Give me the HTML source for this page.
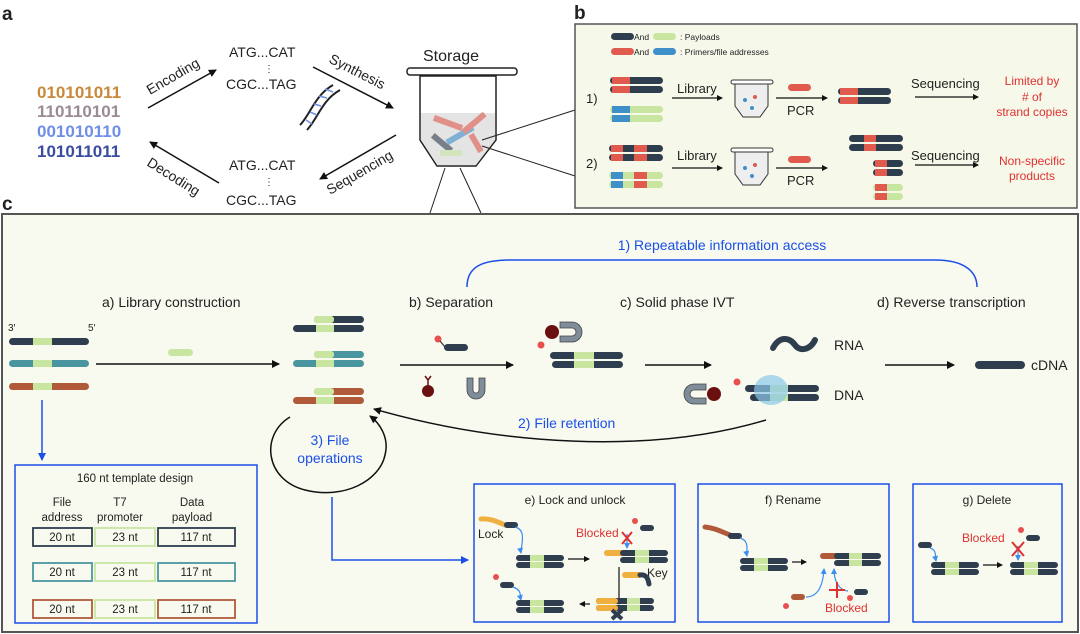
<!DOCTYPE html>
<html><head><meta charset="utf-8"><style>
html,body{margin:0;padding:0;background:#fff}
svg{display:block}
text{font-family:"Liberation Sans",sans-serif;fill:#222}
</style></head><body>
<svg width="1080" height="634" viewBox="0 0 1080 634" xmlns="http://www.w3.org/2000/svg">
<defs>
<marker id="ah" markerWidth="8" markerHeight="8" refX="7" refY="4" orient="auto" markerUnits="userSpaceOnUse"><path d="M0,0 L8,4 L0,8 z" fill="#111"/></marker>
<marker id="ahb" markerWidth="8" markerHeight="8" refX="7" refY="4" orient="auto" markerUnits="userSpaceOnUse"><path d="M0,0 L8,4 L0,8 z" fill="#1a4fe8"/></marker>
<marker id="ahs" markerWidth="6" markerHeight="6" refX="5" refY="3" orient="auto" markerUnits="userSpaceOnUse"><path d="M0,0 L6,3 L0,6 z" fill="#111"/></marker>
<marker id="ahsb" markerWidth="6" markerHeight="6" refX="5" refY="3" orient="auto" markerUnits="userSpaceOnUse"><path d="M0,0 L6,3 L0,6 z" fill="#3a8ef0"/></marker>
</defs>

<!-- panel labels -->
<text x="2" y="20" font-size="19" font-weight="bold">a</text>
<text x="574" y="19" font-size="19" font-weight="bold">b</text>
<text x="2" y="210" font-size="19" font-weight="bold">c</text>

<!-- panel a -->
<g font-size="17" font-weight="bold">
<text x="37" y="98" fill="#c8893a" style="fill:#c8893a">010101011</text>
<text x="37" y="117" style="fill:#9a8a96">110110101</text>
<text x="37" y="137" style="fill:#6f8ee8">001010110</text>
<text x="37" y="157" style="fill:#3a4ca0">101011011</text>
</g>
<line x1="148" y1="108" x2="216" y2="70" stroke="#111" stroke-width="1.5" marker-end="url(#ah)"/>
<text x="0" y="0" font-size="14" transform="translate(150,95) rotate(-30)">Encoding</text>
<text x="229" y="57" font-size="14">ATG...CAT</text>
<text x="264" y="72" font-size="10">⋮</text>
<text x="226" y="89" font-size="14">CGC...TAG</text>
<line x1="313" y1="67" x2="393" y2="108" stroke="#111" stroke-width="1.5" marker-end="url(#ah)"/>
<text font-size="14" transform="translate(328,62) rotate(27)">Synthesis</text>
<!-- dna helix -->
<g stroke="#222" stroke-width="2" fill="none">
<path d="M300,125 C310,115 315,95 333,85"/>
<path d="M307,130 C318,118 322,100 340,90"/>
</g>
<g stroke="#6f8ee8" stroke-width="1.5"><line x1="306" y1="120" x2="312" y2="124"/><line x1="310" y1="112" x2="317" y2="115"/><line x1="314" y1="104" x2="321" y2="106"/><line x1="319" y1="96" x2="327" y2="98"/><line x1="325" y1="89" x2="333" y2="92"/></g>
<line x1="396" y1="135" x2="320" y2="179" stroke="#111" stroke-width="1.5" marker-end="url(#ah)"/>
<text font-size="14" transform="translate(330,195) rotate(-30)">Sequencing</text>
<text x="229" y="170" font-size="14">ATG...CAT</text>
<text x="264" y="185" font-size="10">⋮</text>
<text x="226" y="205" font-size="14">CGC...TAG</text>
<line x1="219" y1="183" x2="150" y2="142" stroke="#111" stroke-width="1.5" marker-end="url(#ah)"/>
<text font-size="14" transform="translate(146,165) rotate(32)">Decoding</text>
<!-- tube -->
<text x="423" y="61" font-size="16">Storage</text>
<rect x="407" y="68" width="110" height="7" rx="3" fill="#fff" stroke="#222" stroke-width="1.5"/>
<path d="M420,76 L496,76 L496,140 L476,166 L437,166 L420,140 Z" fill="#fff" stroke="#222" stroke-width="1.5"/>
<path d="M421,113 L495,113 L495,140 L476,165 L438,165 L421,140 Z" fill="#e4e4e4"/>
<g opacity="0.6">
<rect x="433" y="120" width="30" height="6" fill="#e05a4e" transform="rotate(20 448 123)"/>
<rect x="445" y="132" width="30" height="6" fill="#3f8fc8" transform="rotate(-30 460 135)"/>
<rect x="430" y="140" width="24" height="6" fill="#2f3e4e" transform="rotate(40 442 143)"/>
<rect x="460" y="120" width="28" height="6" fill="#e05a4e" transform="rotate(-40 474 123)"/>
<rect x="440" y="150" width="22" height="6" fill="#c8e6a0"/>
<rect x="466" y="140" width="20" height="6" fill="#e05a4e" transform="rotate(60 476 143)"/>
</g>
<line x1="482" y1="140" x2="575" y2="110" stroke="#222" stroke-width="1"/>
<line x1="482" y1="146" x2="575" y2="176" stroke="#222" stroke-width="1"/>
<line x1="445" y1="168" x2="430" y2="213" stroke="#222" stroke-width="1"/>
<line x1="460" y1="168" x2="481" y2="213" stroke="#222" stroke-width="1"/>

<!-- panel b -->
<rect x="575" y="24" width="502" height="184" fill="#f6f9ea" stroke="#555" stroke-width="1.5"/>
<g font-size="8.5">
<rect x="611" y="33" width="23" height="7" rx="3.5" fill="#2f3e4e"/><text x="634" y="40">And</text>
<rect x="653" y="33" width="23" height="7" rx="3.5" fill="#c8e6a0"/><text x="680" y="40">: Payloads</text>
<rect x="611" y="48" width="23" height="7" rx="3.5" fill="#e05a4e"/><text x="634" y="55">And</text>
<rect x="653" y="48" width="23" height="7" rx="3.5" fill="#3f8fc8"/><text x="680" y="55">: Primers/file addresses</text>
</g>
<g font-size="13">
<text x="586" y="103">1)</text><text x="586" y="168">2)</text>
<text x="677" y="93">Library</text><text x="677" y="160">Library</text>
<text x="787" y="115">PCR</text><text x="787" y="185">PCR</text>
<text x="911" y="88">Sequencing</text><text x="911" y="160">Sequencing</text>
</g>
<g font-size="12" text-anchor="middle" style="fill:#e03030">
<text x="1032" y="85" style="fill:#e03030">Limited by</text>
<text x="1032" y="101" style="fill:#e03030"># of</text>
<text x="1032" y="116" style="fill:#e03030">strand copies</text>
<text x="1032" y="165" style="fill:#e03030">Non-specific</text>
<text x="1032" y="180" style="fill:#e03030">products</text>
</g>
<g stroke="#111" stroke-width="1.3">
<line x1="672" y1="98" x2="722" y2="98" marker-end="url(#ahs)"/>
<line x1="776" y1="98" x2="827" y2="98" marker-end="url(#ahs)"/>
<line x1="915" y1="97" x2="978" y2="97" marker-end="url(#ahs)"/>
<line x1="672" y1="168" x2="722" y2="168" marker-end="url(#ahs)"/>
<line x1="776" y1="168" x2="827" y2="168" marker-end="url(#ahs)"/>
<line x1="915" y1="165" x2="978" y2="165" marker-end="url(#ahs)"/>
</g>
<!-- row1 strands -->
<g>
<rect x="610" y="77" width="53" height="7" rx="3.5" fill="#2f3e4e"/><rect x="612" y="77" width="18" height="7" fill="#e05a4e"/>
<rect x="610" y="86" width="53" height="7" rx="3.5" fill="#2f3e4e"/><rect x="612" y="86" width="18" height="7" fill="#e05a4e"/>
<rect x="610" y="106" width="53" height="7" rx="3.5" fill="#c8e6a0"/><rect x="612" y="106" width="18" height="7" fill="#3f8fc8"/>
<rect x="610" y="115" width="53" height="7" rx="3.5" fill="#c8e6a0"/><rect x="612" y="115" width="18" height="7" fill="#3f8fc8"/>
<rect x="788" y="84" width="23" height="7" rx="3.5" fill="#e05a4e"/>
<rect x="838" y="88" width="53" height="7" rx="3.5" fill="#2f3e4e"/><rect x="840" y="88" width="18" height="7" fill="#e05a4e"/>
<rect x="838" y="97" width="53" height="7" rx="3.5" fill="#2f3e4e"/><rect x="840" y="97" width="18" height="7" fill="#e05a4e"/>
<!-- row2 -->
<rect x="609" y="145" width="54" height="7" rx="3.5" fill="#2f3e4e"/><rect x="611" y="145" width="12" height="7" fill="#e05a4e"/><rect x="634" y="145" width="13" height="7" fill="#e05a4e"/>
<rect x="609" y="154" width="54" height="7" rx="3.5" fill="#2f3e4e"/><rect x="611" y="154" width="12" height="7" fill="#e05a4e"/><rect x="634" y="154" width="13" height="7" fill="#e05a4e"/>
<rect x="609" y="172" width="54" height="7" rx="3.5" fill="#c8e6a0"/><rect x="611" y="172" width="12" height="7" fill="#3f8fc8"/><rect x="634" y="172" width="13" height="7" fill="#e05a4e"/>
<rect x="609" y="181" width="54" height="7" rx="3.5" fill="#c8e6a0"/><rect x="611" y="181" width="12" height="7" fill="#3f8fc8"/><rect x="634" y="181" width="13" height="7" fill="#e05a4e"/>
<rect x="788" y="156" width="23" height="7" rx="3.5" fill="#e05a4e"/>
<rect x="849" y="135" width="54" height="7" rx="3.5" fill="#2f3e4e"/><rect x="864" y="135" width="12" height="7" fill="#e05a4e"/><rect x="876" y="135" width="0" height="0"/>
<rect x="849" y="144" width="54" height="7" rx="3.5" fill="#2f3e4e"/><rect x="864" y="144" width="12" height="7" fill="#e05a4e"/>
<rect x="873" y="160" width="30" height="7" rx="3.5" fill="#2f3e4e"/><rect x="875" y="160" width="12" height="7" fill="#e05a4e"/>
<rect x="873" y="169" width="30" height="7" rx="3.5" fill="#2f3e4e"/><rect x="875" y="169" width="12" height="7" fill="#e05a4e"/>
<rect x="873" y="184" width="30" height="7" rx="3.5" fill="#c8e6a0"/><rect x="875" y="184" width="12" height="7" fill="#e05a4e"/>
<rect x="873" y="193" width="30" height="7" rx="3.5" fill="#c8e6a0"/><rect x="875" y="193" width="12" height="7" fill="#e05a4e"/>
</g>
<!-- small tubes -->
<g>
<rect x="731" y="80" width="42" height="4" rx="2" fill="#fff" stroke="#333"/>
<path d="M735,84 L768,84 L768,106 L760,117 L743,117 L735,106 Z" fill="#eee" stroke="#333"/>
<rect x="731" y="148" width="42" height="4" rx="2" fill="#fff" stroke="#333"/>
<path d="M735,152 L768,152 L768,174 L760,185 L743,185 L735,174 Z" fill="#eee" stroke="#333"/>
<circle cx="745" cy="100" r="2" fill="#3f8fc8"/><circle cx="755" cy="97" r="2" fill="#e05a4e"/><circle cx="752" cy="108" r="2" fill="#3f8fc8"/>
<circle cx="745" cy="168" r="2" fill="#3f8fc8"/><circle cx="755" cy="165" r="2" fill="#e05a4e"/><circle cx="752" cy="176" r="2" fill="#3f8fc8"/>
</g>

<!-- panel c -->
<rect x="2" y="214" width="1076" height="418" fill="#f8faef" stroke="#555" stroke-width="2"/>
<g font-size="14">
<text x="102" y="307">a) Library construction</text>
<text x="409" y="307">b) Separation</text>
<text x="620" y="307">c) Solid phase IVT</text>
<text x="877" y="307">d) Reverse transcription</text>
<text x="834" y="350">RNA</text>
<text x="834" y="400">DNA</text>
<text x="1031" y="370">cDNA</text>
</g>
<text x="8" y="331" font-size="10">3′</text><text x="88" y="331" font-size="10">5′</text>
<text x="722" y="250" font-size="14" text-anchor="middle" style="fill:#1a4fe8">1) Repeatable information access</text>
<path d="M467,287 C467,268 480,260 510,260 L935,260 C965,260 977,272 977,287" fill="none" stroke="#1a4fe8" stroke-width="1.5"/>
<!-- left strands -->
<g>
<rect x="9" y="338" width="80" height="7" rx="3.5" fill="#2f3e4e"/><rect x="33" y="338" width="19" height="7" fill="#c8e6a0"/>
<rect x="9" y="360" width="80" height="7" rx="3.5" fill="#4a96a0"/><rect x="33" y="360" width="19" height="7" fill="#c8e6a0"/>
<rect x="9" y="383" width="80" height="7" rx="3.5" fill="#b05a3a"/><rect x="33" y="383" width="19" height="7" fill="#c8e6a0"/>
<rect x="168" y="349" width="25" height="7" rx="3.5" fill="#c8e6a0"/>
</g>
<line x1="96" y1="364" x2="279" y2="364" stroke="#111" stroke-width="1.5" marker-end="url(#ah)"/>
<!-- stacked strands -->
<g>
<rect x="314" y="316" width="50" height="7" rx="3.5" fill="#2f3e4e"/><rect x="314" y="316" width="20" height="7" rx="3" fill="#c8e6a0"/>
<rect x="293" y="325" width="71" height="7" rx="3.5" fill="#2f3e4e"/><rect x="316" y="325" width="18" height="7" fill="#c8e6a0"/>
<rect x="314" y="351" width="50" height="7" rx="3.5" fill="#4a96a0"/><rect x="314" y="351" width="20" height="7" rx="3" fill="#c8e6a0"/>
<rect x="293" y="360" width="71" height="7" rx="3.5" fill="#4a96a0"/><rect x="316" y="360" width="18" height="7" fill="#c8e6a0"/>
<rect x="314" y="388" width="50" height="7" rx="3.5" fill="#b05a3a"/><rect x="314" y="388" width="20" height="7" rx="3" fill="#c8e6a0"/>
<rect x="293" y="397" width="71" height="7" rx="3.5" fill="#b05a3a"/><rect x="316" y="397" width="18" height="7" fill="#c8e6a0"/>
</g>
<!-- separation -->
<line x1="400" y1="365" x2="513" y2="365" stroke="#111" stroke-width="1.5" marker-end="url(#ah)"/>
<circle cx="438" cy="339" r="3.5" fill="#e85050"/><line x1="440" y1="341" x2="445" y2="347" stroke="#333" stroke-width="1.2"/>
<rect x="444" y="344" width="24" height="7" rx="3.5" fill="#2f3e4e"/>
<circle cx="428" cy="391" r="6" fill="#6b1010"/><path d="M428,385 L428,380 M428,380 L425,376 M428,380 L431,376" stroke="#6b1010" stroke-width="1.5" fill="none"/>
<path d="M467,378 L467,390 A9,9 0 0 0 485,390 L485,378 L479,378 L479,390 A3,3 0 0 1 473,390 L473,378 Z" fill="#7f8c9a" stroke="#444" stroke-width="0.8"/>
<!-- IVT bead cluster -->
<circle cx="552" cy="332" r="7" fill="#6b1010"/>
<circle cx="541" cy="345" r="3.5" fill="#e85050"/>
<path d="M560,322 L572,322 A10,10 0 0 1 572,342 L560,342 L560,336 L572,336 A4,4 0 0 0 572,328 L560,328 Z" fill="#7f8c9a" stroke="#444" stroke-width="0.8"/>
<rect x="550" y="352" width="73" height="7" rx="3.5" fill="#2f3e4e"/><rect x="574" y="352" width="20" height="7" fill="#c8e6a0"/>
<rect x="552" y="361" width="71" height="7" rx="3.5" fill="#2f3e4e"/><rect x="574" y="361" width="20" height="7" fill="#c8e6a0"/>
<line x1="645" y1="365" x2="711" y2="365" stroke="#111" stroke-width="1.5" marker-end="url(#ah)"/>
<path d="M773,348 C780,335 790,338 795,345 C800,352 810,350 815,340" fill="none" stroke="#2f3e4e" stroke-width="6" stroke-linecap="round"/>
<path d="M706,384 L694,384 A10,10 0 0 0 694,404 L706,404 L706,398 L694,398 A4,4 0 0 1 694,390 L706,390 Z" fill="#7f8c9a" stroke="#444" stroke-width="0.8"/>
<circle cx="714" cy="394" r="7" fill="#6b1010"/>
<circle cx="737" cy="382" r="3.5" fill="#e85050"/>
<rect x="745" y="385" width="74" height="7" rx="3.5" fill="#2f3e4e"/><rect x="770" y="385" width="18" height="7" fill="#c8e6a0"/>
<rect x="750" y="394" width="69" height="7" rx="3.5" fill="#2f3e4e"/><rect x="770" y="394" width="18" height="7" fill="#c8e6a0"/>
<ellipse cx="771" cy="390" rx="17" ry="15" fill="#8cc8e8" opacity="0.7"/>
<line x1="885" y1="365" x2="954" y2="365" stroke="#111" stroke-width="1.5" marker-end="url(#ah)"/>
<rect x="975" y="361" width="50" height="8" rx="4" fill="#2f3e4e"/>
<!-- file retention -->
<path d="M766,420 C650,455 500,445 374,409" fill="none" stroke="#111" stroke-width="1.5" marker-end="url(#ah)"/>
<text x="518" y="428" font-size="14" style="fill:#1a4fe8">2) File retention</text>
<!-- file operations circle -->
<path d="M290,417 C260,435 265,480 305,490 C345,500 380,480 385,455 C389,440 382,425 370,416" fill="none" stroke="#111" stroke-width="1.5" marker-end="url(#ah)"/>
<text x="330" y="445" font-size="14" text-anchor="middle" style="fill:#1a4fe8">3) File</text>
<text x="330" y="463" font-size="14" text-anchor="middle" style="fill:#1a4fe8">operations</text>
<path d="M332,497 L332,560 L468,560" fill="none" stroke="#1a4fe8" stroke-width="1.5" marker-end="url(#ahb)"/>
<line x1="42" y1="400" x2="42" y2="460" stroke="#1a4fe8" stroke-width="1.5" marker-end="url(#ahb)"/>
<!-- template box -->
<rect x="15" y="465" width="242" height="158" fill="#f8faef" stroke="#1a4fe8" stroke-width="1.5"/>
<g font-size="11.5" text-anchor="middle">
<text x="135" y="482">160 nt template design</text>
<text x="62" y="506">File</text><text x="62" y="521">address</text>
<text x="120" y="506">T7</text><text x="120" y="521">promoter</text>
<text x="192" y="506">Data</text><text x="192" y="521">payload</text>
</g>
<g font-size="11.5" text-anchor="middle" fill="none" stroke-width="1.8">
<rect x="33" y="528" width="59" height="18" stroke="#2f3e4e"/><rect x="95" y="528" width="60" height="18" stroke="#c8e6a0"/><rect x="158" y="528" width="77" height="18" stroke="#2f3e4e"/>
<rect x="33" y="563" width="59" height="18" stroke="#4a96a0"/><rect x="95" y="563" width="60" height="18" stroke="#c8e6a0"/><rect x="158" y="563" width="77" height="18" stroke="#4a96a0"/>
<rect x="33" y="600" width="59" height="18" stroke="#b05a3a"/><rect x="95" y="600" width="60" height="18" stroke="#c8e6a0"/><rect x="158" y="600" width="77" height="18" stroke="#b05a3a"/>
</g>
<g font-size="11.5" text-anchor="middle">
<text x="62" y="541">20 nt</text><text x="125" y="541">23 nt</text><text x="196" y="541">117 nt</text>
<text x="62" y="576">20 nt</text><text x="125" y="576">23 nt</text><text x="196" y="576">117 nt</text>
<text x="62" y="613">20 nt</text><text x="125" y="613">23 nt</text><text x="196" y="613">117 nt</text>
</g>
<!-- e/f/g boxes -->
<rect x="474" y="484" width="201" height="138" fill="#f8faef" stroke="#1a4fe8" stroke-width="1.5"/>
<rect x="698" y="484" width="191" height="138" fill="#f8faef" stroke="#1a4fe8" stroke-width="1.5"/>
<rect x="913" y="484" width="149" height="138" fill="#f8faef" stroke="#1a4fe8" stroke-width="1.5"/>
<g font-size="12" text-anchor="middle">
<text x="575" y="504">e) Lock and unlock</text>
<text x="793" y="504">f) Rename</text>
<text x="987" y="504">g) Delete</text>
</g>
<g font-size="12">
<text x="478" y="538">Lock</text>
<text x="647" y="577">Key</text>
</g>
<g font-size="12" style="fill:#e03030">
<text x="576" y="537" style="fill:#e03030">Blocked</text>
<text x="825" y="612" style="fill:#e03030">Blocked</text>
<text x="962" y="542" style="fill:#e03030">Blocked</text>
</g>
<!-- e contents -->
<g>
<path d="M481,519 C490,518 498,522 505,525" stroke="#f0b040" stroke-width="5" fill="none" stroke-linecap="round"/>
<rect x="504" y="522" width="14" height="6" rx="3" fill="#2f3e4e"/>
<path d="M515,527 C528,530 520,548 521,553" stroke="#3a8ef0" stroke-width="1.2" fill="none" marker-end="url(#ahsb)"/>
<rect x="516" y="555" width="48" height="6" rx="3" fill="#2f3e4e"/><rect x="530" y="555" width="14" height="6" fill="#c8e6a0"/>
<rect x="516" y="562" width="48" height="6" rx="3" fill="#2f3e4e"/><rect x="530" y="562" width="14" height="6" fill="#c8e6a0"/>
<line x1="568" y1="559" x2="589" y2="559" stroke="#111" stroke-width="1.2" marker-end="url(#ahs)"/>
<rect x="604" y="550" width="32" height="6" rx="3" fill="#f0b040"/>
<rect x="620" y="550" width="48" height="6" rx="3" fill="#2f3e4e"/><rect x="635" y="550" width="14" height="6" fill="#c8e6a0"/>
<rect x="620" y="557" width="48" height="6" rx="3" fill="#2f3e4e"/><rect x="635" y="557" width="14" height="6" fill="#c8e6a0"/>
<circle cx="635" cy="521" r="3" fill="#e85050"/><rect x="640" y="525" width="14" height="6" rx="3" fill="#2f3e4e"/>
<line x1="627" y1="534" x2="627" y2="548" stroke="#3a8ef0" stroke-width="1.2" marker-end="url(#ahsb)"/>
<path d="M622,532 L632,544 M632,532 L622,544" stroke="#e03030" stroke-width="2"/>
<line x1="619" y1="567" x2="619" y2="604" stroke="#111" stroke-width="1.2" marker-end="url(#ahs)"/>
<rect x="622" y="572" width="20" height="6" rx="3" fill="#f0b040"/>
<path d="M640,575 C646,574 648,578 649,584" stroke="#2f3e4e" stroke-width="5" fill="none" stroke-linecap="round"/>
<rect x="596" y="598" width="58" height="6" rx="3" fill="#2f3e4e"/><rect x="596" y="598" width="22" height="6" rx="3" fill="#f0b040"/><rect x="627" y="598" width="13" height="6" fill="#c8e6a0"/>
<rect x="596" y="605" width="58" height="6" rx="3" fill="#2f3e4e"/><rect x="596" y="605" width="22" height="6" rx="3" fill="#f0b040"/><rect x="627" y="605" width="13" height="6" fill="#c8e6a0"/>
<path d="M612,610 L622,619 M622,610 L612,619" stroke="#2f3e4e" stroke-width="4"/>
<line x1="590" y1="604" x2="580" y2="604" stroke="#111" stroke-width="1.2" marker-end="url(#ahs)"/>
<circle cx="496" cy="577" r="3" fill="#e85050"/><rect x="500" y="582" width="14" height="6" rx="3" fill="#2f3e4e"/>
<path d="M513,587 C522,590 520,596 521,600" stroke="#3a8ef0" stroke-width="1.2" fill="none" marker-end="url(#ahsb)"/>
<rect x="516" y="600" width="48" height="6" rx="3" fill="#2f3e4e"/><rect x="530" y="600" width="14" height="6" fill="#c8e6a0"/>
<rect x="516" y="607" width="48" height="6" rx="3" fill="#2f3e4e"/><rect x="530" y="607" width="14" height="6" fill="#c8e6a0"/>
</g>
<!-- f contents -->
<g>
<path d="M705,527 C715,528 722,532 730,535" stroke="#b05a3a" stroke-width="5" fill="none" stroke-linecap="round"/>
<rect x="728" y="533" width="14" height="6" rx="3" fill="#2f3e4e"/>
<path d="M740,538 C750,541 746,550 747,556" stroke="#3a8ef0" stroke-width="1.2" fill="none" marker-end="url(#ahsb)"/>
<rect x="740" y="558" width="48" height="6" rx="3" fill="#2f3e4e"/><rect x="754" y="558" width="14" height="6" fill="#c8e6a0"/>
<rect x="740" y="565" width="48" height="6" rx="3" fill="#2f3e4e"/><rect x="754" y="565" width="14" height="6" fill="#c8e6a0"/>
<line x1="792" y1="562" x2="806" y2="562" stroke="#111" stroke-width="1.2" marker-end="url(#ahs)"/>
<rect x="820" y="553" width="20" height="6" rx="3" fill="#b05a3a"/>
<rect x="834" y="553" width="47" height="6" rx="3" fill="#2f3e4e"/><rect x="849" y="553" width="13" height="6" fill="#c8e6a0"/>
<rect x="834" y="560" width="47" height="6" rx="3" fill="#2f3e4e"/><rect x="849" y="560" width="13" height="6" fill="#c8e6a0"/>
<circle cx="786" cy="606" r="3" fill="#e85050"/><rect x="791" y="594" width="14" height="6" rx="3" fill="#b05a3a"/>
<path d="M806,597 C818,597 823,585 824,569" stroke="#3a8ef0" stroke-width="1.2" fill="none" marker-end="url(#ahsb)"/>
<path d="M848,591 C838,590 834,580 834,569" stroke="#3a8ef0" stroke-width="1.2" fill="none" marker-end="url(#ahsb)"/>
<path d="M837,582 L837,598 M829,590 L845,590" stroke="#e03030" stroke-width="2"/>
<circle cx="850" cy="598" r="3" fill="#e85050"/><rect x="854" y="589" width="14" height="6" rx="3" fill="#2f3e4e"/>
</g>
<!-- g contents -->
<g>
<rect x="918" y="542" width="14" height="6" rx="3" fill="#2f3e4e"/>
<path d="M930,548 C937,550 935,556 936,561" stroke="#3a8ef0" stroke-width="1.2" fill="none" marker-end="url(#ahsb)"/>
<rect x="931" y="562" width="48" height="6" rx="3" fill="#2f3e4e"/><rect x="945" y="562" width="14" height="6" fill="#c8e6a0"/>
<rect x="931" y="569" width="48" height="6" rx="3" fill="#2f3e4e"/><rect x="945" y="569" width="14" height="6" fill="#c8e6a0"/>
<line x1="983" y1="565" x2="1002" y2="565" stroke="#111" stroke-width="1.2" marker-end="url(#ahs)"/>
<rect x="1010" y="562" width="48" height="6" rx="3" fill="#2f3e4e"/><rect x="1024" y="562" width="14" height="6" fill="#c8e6a0"/>
<rect x="1010" y="569" width="48" height="6" rx="3" fill="#2f3e4e"/><rect x="1024" y="569" width="14" height="6" fill="#c8e6a0"/>
<circle cx="1021" cy="530" r="3" fill="#e85050"/><rect x="1026" y="535" width="14" height="6" rx="3" fill="#2f3e4e"/>
<line x1="1018" y1="546" x2="1018" y2="560" stroke="#3a8ef0" stroke-width="1.2" marker-end="url(#ahsb)"/>
<path d="M1012,542 L1024,556 M1024,542 L1012,556" stroke="#e03030" stroke-width="2"/>
</g>
</svg>
</body></html>
